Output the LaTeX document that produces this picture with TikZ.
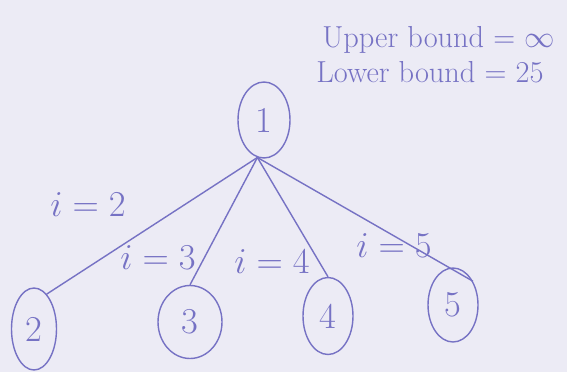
\documentclass[tikz,border=0pt]{standalone}
\usepackage{amsmath,amssymb}
\usepackage{xcolor}
\usetikzlibrary{shapes.geometric}

\definecolor{pen}{HTML}{7672C4}
\definecolor{paper}{HTML}{ECEBF5}

\begin{document}
\begin{tikzpicture}[
  x=0.02cm,y=-0.02cm,
  state/.style={draw=pen,ellipse,thick,inner sep=0pt,text=pen,font=\huge},
  lbl/.style={text=pen,font=\huge,inner sep=1pt},
  note/.style={text=pen,font=\LARGE,anchor=west,inner sep=0pt},
  edge/.style={draw=pen,thick}
]
\fill[paper] (0,0) rectangle (567,372);
\useasboundingbox (0,0) rectangle (567,372);
% bounds
\node[note] (ub) at (322,40) {Upper bound = $\infty$};
\node[note] (lb) at (316,72) {Lower bound = 25};
% tree
\node[state,minimum width=1.04cm,minimum height=1.52cm] (n1) at (264,120) {1};
\node[state,minimum width=0.9cm,minimum height=1.64cm] (n2) at (34,329) {2};
\node[state,minimum width=1.28cm,minimum height=1.46cm] (n3) at (190,322) {3};
\node[state,minimum width=1.0cm,minimum height=1.54cm] (n4) at (328,316) {4};
\node[state,minimum width=1.0cm,minimum height=1.48cm] (n5) at (453,305) {5};
\draw[edge] (n1.-100) -- (n2.70);
\draw[edge] (n1.-100) -- (n3.north);
\draw[edge] (n1.-100) -- (n4.north);
\draw[edge] (n1.-100) -- (n5.50);
% labels
\node[lbl] (l2) at (88,205) {$i=2$};
\node[lbl] (l3) at (158,258) {$i=3$};
\node[lbl] (l4) at (272,262) {$i=4$};
\node[lbl] (l5) at (394,246) {$i=5$};
\end{tikzpicture}
\end{document}
